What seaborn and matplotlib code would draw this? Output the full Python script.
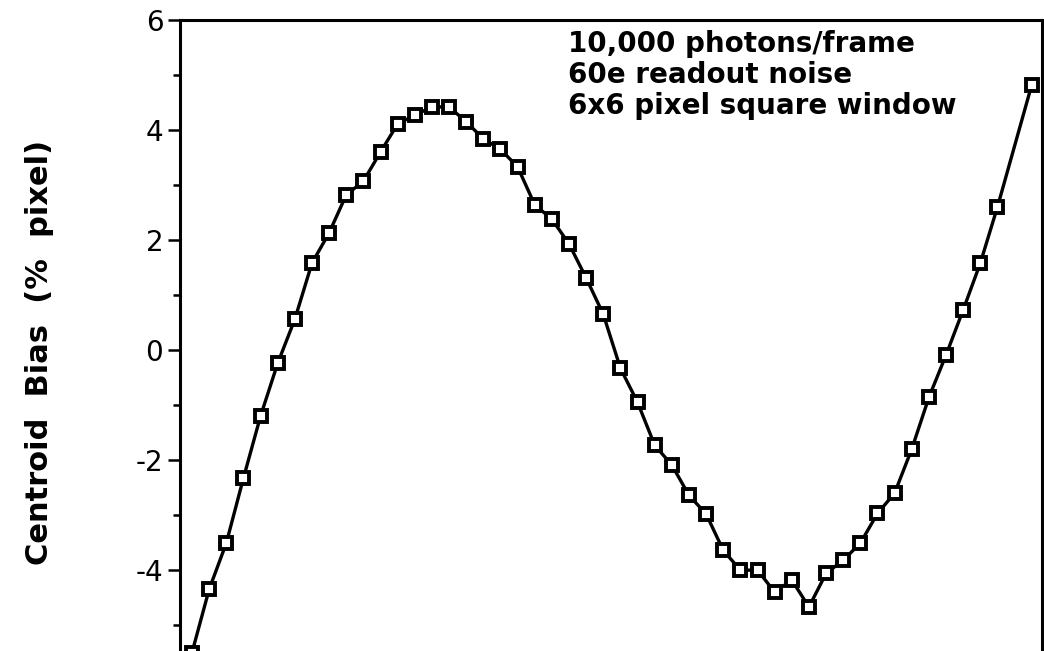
import numpy as np
import pandas as pd
import matplotlib
matplotlib.use("Agg")
import matplotlib.pyplot as plt
import seaborn as sns
from matplotlib.ticker import MultipleLocator, FuncFormatter

# ---- data ----
sample_index = list(range(48)) + [49]
bias_values = [
    -5.50, -4.35, -3.51, -2.33, -1.20, -0.24, 0.56, 1.58, 2.13, 2.82,
    3.07, 3.60, 4.11, 4.27, 4.42, 4.42, 4.15, 3.84, 3.65, 3.33,
    2.64, 2.38, 1.93, 1.31, 0.65, -0.33, -0.95, -1.73, -2.09, -2.64,
    -2.98, -3.64, -4.00, -4.00, -4.40, -4.18, -4.67, -4.06, -3.82, -3.51,
    -2.97, -2.60, -1.80, -0.86, -0.09, 0.73, 1.58, 2.60,
    4.82,
]
annotation_lines = ["10,000 photons/frame", "60e readout noise", "6x6 pixel square window"]
y_label = "Centroid  Bias  (%  pixel)"

sns.set_theme(style="white")
plt.rcParams["font.family"] = ["DejaVu Sans"]
plt.rcParams["axes.unicode_minus"] = False

W, H = 1044, 651
fig = plt.figure(figsize=(W / 100, H / 100), dpi=100)
fig.patch.set_facecolor("white")
ax = fig.add_axes([180 / W, 0, (1042 - 180) / W, 1 - 20 / H])
ax.set_facecolor("white")

df = pd.DataFrame({"x": sample_index, "y": bias_values})
sns.lineplot(data=df, x="x", y="y", ax=ax, color="black", linewidth=2.4,
             marker="s", markersize=9, markerfacecolor="white",
             markeredgecolor="black", markeredgewidth=2.8)

ax.set_xlim(-0.70, 49.6)
ax.set_ylim(-5.47, 6.0)

for side in ["left", "top", "right"]:
    ax.spines[side].set_visible(True)
    ax.spines[side].set_color("black")
    ax.spines[side].set_linewidth(2.2)
ax.spines["bottom"].set_visible(False)

ax.set_xticks([])
ax.yaxis.set_major_locator(MultipleLocator(2))
ax.yaxis.set_minor_locator(MultipleLocator(1))
ax.yaxis.set_major_formatter(FuncFormatter(lambda v, p: f"{int(round(v))}"))
ax.tick_params(axis="y", which="major", direction="out", length=9, width=1.8,
               labelsize=20, pad=3, left=True, right=False, colors="black")
ax.tick_params(axis="y", which="minor", direction="out", length=5, width=1.8,
               left=True, right=False, colors="black")
ax.set_xlabel("")
ax.set_ylabel("")

fig.text(40 / W, 1 - 352 / H, y_label, rotation=90, ha="center", va="center",
         fontsize=22, fontweight="bold", color="black")

baselines = [52, 83, 114]
for line, b in zip(annotation_lines, baselines):
    fig.text(568 / W, 1 - b / H, line, ha="left", va="baseline",
             fontsize=20, fontweight="bold", color="black")

fig.savefig("out.png", dpi=100, facecolor="white")
